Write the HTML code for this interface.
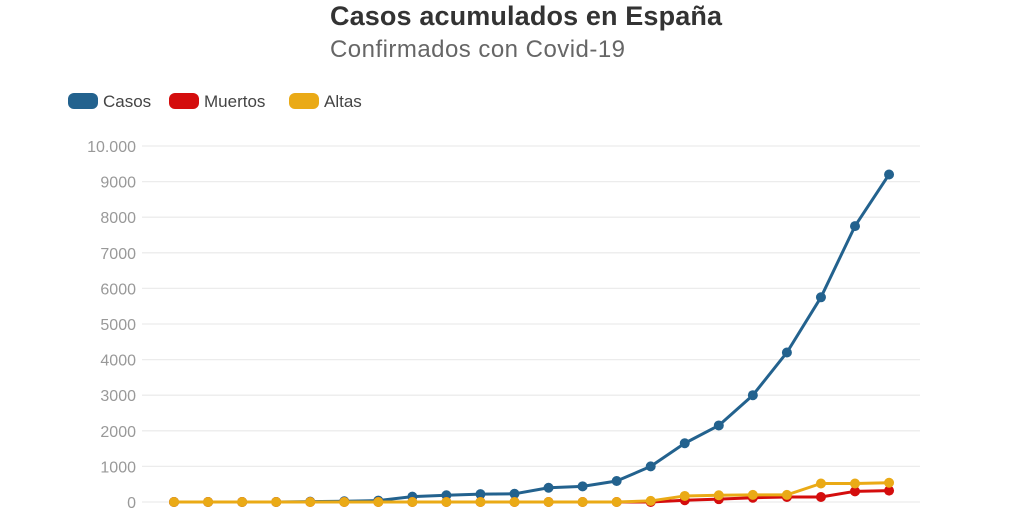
<!DOCTYPE html>
<html><head><meta charset="utf-8"><style>
body{margin:0;background:#fff;width:1024px;height:512px;overflow:hidden;font-family:"Liberation Sans",sans-serif}
</style></head><body>
<svg id="s" width="1024" height="512" xmlns="http://www.w3.org/2000/svg" font-family="Liberation Sans, sans-serif">
<text x="526" y="25" text-anchor="middle" font-size="27" font-weight="bold" fill="#333" textLength="392">Casos acumulados en España</text>
<text x="330" y="57" font-size="24" fill="#666" textLength="295">Confirmados con Covid-19</text>
<rect x="68" y="93" width="30" height="16" rx="6" fill="#23628e"/>
<text x="103" y="107" font-size="17" fill="#444">Casos</text>
<rect x="169" y="93" width="30" height="16" rx="6" fill="#d40d0d"/>
<text x="204" y="107" font-size="17" fill="#444">Muertos</text>
<rect x="289" y="93" width="30" height="16" rx="6" fill="#eaaa16"/>
<text x="324" y="107" font-size="17" fill="#444">Altas</text>
<g id="g"></g>
</svg>
<script>
var g=document.getElementById('g'),h='';
function Y(v){return 502-v*0.0356;}
for(var k=0;k<=10;k++){var y=Y(k*1000);
h+='<line x1="142" x2="920" y1="'+y+'" y2="'+y+'" stroke="#ececec" stroke-width="1.3"/>';
h+='<text x="136" y="'+(y+6)+'" text-anchor="end" font-size="16" fill="#999">'+(k==10?'10.000':k*1000)+'</text>';}
var c=[0,0,0,0,10,20,40,150,190,220,230,400,440,590,1000,1650,2150,3000,4200,5750,7750,9200];
var m=[0,0,0,0,0,0,0,0,0,0,0,0,0,0,0,50,80,120,140,140,300,320];
var a=[0,0,0,0,0,0,0,0,0,0,0,0,0,0,30,170,190,200,200,520,520,540];
function X(i){return 174+i*34.05;}
function ser(d,col){var p='';for(var i=0;i<d.length;i++)p+=X(i)+','+Y(d[i])+' ';
var s='<polyline points="'+p+'" fill="none" stroke="'+col+'" stroke-width="3" stroke-linejoin="round"/>';
for(var i=0;i<d.length;i++)s+='<circle cx="'+X(i)+'" cy="'+Y(d[i])+'" r="5" fill="'+col+'"/>';return s;}
g.innerHTML=h+ser(c,'#23628e')+ser(m,'#d40d0d')+ser(a,'#eaaa16');
</script>
</body></html>
